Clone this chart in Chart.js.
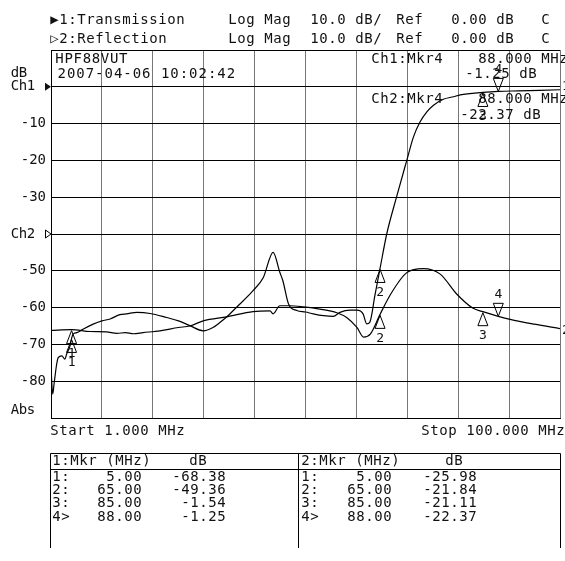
<!DOCTYPE html>
<html>
<head>
<meta charset="utf-8">
<script src="https://cdn.jsdelivr.net/npm/chart.js@4.4.1/dist/chart.umd.min.js"></script>
<style>
    html, body { margin: 0; padding: 0; background: #fff; }
    canvas { display: block; }
</style>
</head>
<body>
<canvas id="vna" width="565" height="561"></canvas>
<script>
// Ch1 (Transmission), MHz / dB
const freqCh1 = [1, 1.33, 1.6, 2.1, 2.4, 3.1, 3.7, 4.05, 4.7, 5, 5.3, 6, 7.3, 9.2, 10.9, 12.5, 14.4, 15.7, 17.7, 20.3,
    23.5, 25.8, 28, 30.6, 32.5, 33.9, 35.2, 37.1, 40.3, 42.3, 44.2, 45.5, 46.1, 47.2, 48.8, 50.5, 52, 54, 55.9, 57.2,
    59.2, 60.5, 61.7, 62.4, 63, 64, 65, 66.3, 68.2, 70.2, 71.5, 72.8, 74.1, 75.4, 77.3, 79.3, 80.6, 85, 88, 92, 96, 100];
const ch1Db = [-76.3, -83.5, -80.7, -75.4, -73.6, -73.1, -74.0, -72.6, -70.4, -68.38, -67.2, -66.8, -65.8, -64.5, -63.6, -63.1, -61.9, -61.7, -61.3, -61.6,
    -62.7, -63.6, -64.9, -66.3, -65.4, -64.0, -62.5, -59.9, -55.4, -51.8, -45.0, -50.4, -52.7, -59.0, -60.8, -61.2, -61.7, -62.2, -62.4, -61.3,
    -60.7, -60.7, -61.7, -64.4, -64.0, -56.7, -49.36, -40, -30, -20, -13.6, -9.5, -6.8, -5.0, -3.4, -2.7, -2.2, -1.54, -1.25, -1.1, -0.95, -0.8];

// Ch2 (Reflection), MHz / dB
const freqCh2 = [1, 5, 8.6, 11.8, 13.8, 15.5, 17, 18.9, 22.2, 25.8, 28, 30.6, 35.2, 40.3, 43.6, 44.2, 45.5, 47.5, 50.1, 53.3,
    56.6, 58.5, 60.5, 61.8, 63.1, 65, 67, 70.2, 73.4, 76.7, 79.9, 83.1, 85, 88, 90.3, 95, 100];
const ch2Db = [-26.2, -25.98, -26.5, -26.6, -27.0, -26.8, -27.1, -26.8, -26.3, -25.4, -25.0, -23.6, -22.5, -21.1, -20.9, -21.7, -19.5, -19.5, -19.8, -20.4,
    -21.4, -22.7, -25.4, -28.0, -27.2, -21.84, -16.5, -10.5, -9.4, -10.9, -16.3, -20.2, -21.11, -22.37, -23.2, -24.5, -25.7];

// markers
const markerFreq = [5, 65, 85, 88];
const ch1Mkr = [-68.38, -49.36, -1.54, -1.25];
const ch2Mkr = [-25.98, -21.84, -21.11, -22.37];

// axes
const xGridMhz = [1, 10.9, 20.8, 30.7, 40.6, 50.5, 60.4, 70.3, 80.2, 90.1, 100];
const yTickValues = [-10, -20, -30, -50, -60, -70, -80];

const FONT = '14px "DejaVu Sans Mono", monospace';
const SMALL = '13px "DejaVu Sans Mono", monospace';

function txt(ctx, s, x, y, pitch) {
    pitch = pitch || 9;
    for (let i = 0; i < s.length; i++) ctx.fillText(s[i], x + i * pitch + pitch / 2, y);
}
function txtRight(ctx, s, xEnd, y, pitch) {
    pitch = pitch || 9;
    txt(ctx, s, xEnd - s.length * pitch, y, pitch);
}

function marcador(ctx, px, py, ativo, num) {
    ctx.beginPath();
    if (ativo) {
        ctx.moveTo(px, py);
        ctx.lineTo(px - 5, py - 13);
        ctx.lineTo(px + 5, py - 13);
    } else {
        ctx.moveTo(px, py + 1);
        ctx.lineTo(px - 5, py + 14);
        ctx.lineTo(px + 5, py + 14);
    }
    ctx.closePath();
    ctx.stroke();
    ctx.font = SMALL;
    ctx.fillText(num, px, ativo ? py - 22 : py + 24);
}

const overlay = {
    id: 'overlay',
    afterDraw(chart) {
        const ctx = chart.ctx;
        const sx = chart.scales.x, s1 = chart.scales.y, s2 = chart.scales.y2;
        const area = chart.chartArea;
        ctx.save();
        ctx.fillStyle = '#111';
        ctx.strokeStyle = '#000';
        ctx.lineWidth = 1;
        ctx.textAlign = 'center';
        ctx.textBaseline = 'middle';
        ctx.font = FONT;

        // header
        txt(ctx, '\u25B61:Transmission', 50, 20);
        txt(ctx, '\u25B72:Reflection', 50, 39);
        [20, 39].forEach(y => {
            txt(ctx, 'Log Mag', 228, y);
            txt(ctx, '10.0 dB/', 310, y);
            txt(ctx, 'Ref', 396, y);
            txt(ctx, '0.00 dB', 451, y);
            txt(ctx, 'C', 541, y);
        });

        // texts inside the grid
        txt(ctx, 'HPF88VUT', 55, 59, 9.1);
        txt(ctx, '2007-04-06 10:02:42', 57, 74, 9.4);
        txt(ctx, 'Ch1:Mkr4', 371, 59);
        txt(ctx, '88.000 MHz', 478, 59);
        txt(ctx, '-1.25 dB', 465, 74);
        txt(ctx, 'Ch2:Mkr4', 371, 99);
        txt(ctx, '88.000 MHz', 478, 99);
        txt(ctx, '-22.37 dB', 460, 115);

        // left side labels
        const y0 = s1.getPixelForValue(0);
        const yc2 = s2.getPixelForValue(0);
        txt(ctx, 'dB', 11, y0 - 13, 8);
        txt(ctx, 'Ch1', 11, y0, 8);
        txt(ctx, 'Ch2', 11, yc2, 8);
        txt(ctx, 'Abs', 11, s1.getPixelForValue(-88), 8);
        ctx.beginPath();
        ctx.moveTo(45, y0 - 4); ctx.lineTo(51, y0); ctx.lineTo(45, y0 + 4); ctx.closePath();
        ctx.fill();
        ctx.beginPath();
        ctx.moveTo(45.5, yc2 - 4); ctx.lineTo(51, yc2); ctx.lineTo(45.5, yc2 + 4); ctx.closePath();
        ctx.stroke();

        // start / stop
        txt(ctx, 'Start 1.000 MHz', 50, 431);
        txtRight(ctx, 'Stop 100.000 MHz', 565, 431);

        // trace end labels
        ctx.font = SMALL;
        ctx.textAlign = 'left';
        ctx.fillText('1', area.right + 2, s1.getPixelForValue(ch1Db[ch1Db.length - 1]) - 3);
        ctx.fillText('2', area.right + 2, s2.getPixelForValue(ch2Db[ch2Db.length - 1]) + 2);
        ctx.textAlign = 'center';

        // markers
        markerFreq.forEach((f, i) => {
            const px = sx.getPixelForValue(f);
            const ativo = i === markerFreq.length - 1;
            marcador(ctx, px, s1.getPixelForValue(ch1Mkr[i]), ativo, String(i + 1));
            marcador(ctx, px, s2.getPixelForValue(ch2Mkr[i]), ativo, String(i + 1));
        });

        // marker table
        const tTop = 453.5, tDiv = 469.5, tBot = 548, tL = 50.5, tM = 298.5, tR = 560.5;
        ctx.beginPath();
        ctx.moveTo(tL, tTop); ctx.lineTo(tR, tTop);
        ctx.moveTo(tL, tDiv); ctx.lineTo(tR, tDiv);
        [tL, tM, tR].forEach(x => { ctx.moveTo(x, tTop); ctx.lineTo(x, tBot); });
        ctx.stroke();
        ctx.font = FONT;
        txt(ctx, '1:Mkr (MHz)', 52, 461);
        txt(ctx, 'dB', 189, 461);
        txt(ctx, '2:Mkr (MHz)', 301, 461);
        txt(ctx, 'dB', 445, 461);
        markerFreq.forEach((f, i) => {
            const y = 477 + i * 13.4;
            const lbl = (i + 1) + (i === markerFreq.length - 1 ? '>' : ':');
            txt(ctx, lbl, 52, y);
            txtRight(ctx, f.toFixed(2), 142, y);
            txtRight(ctx, ch1Mkr[i].toFixed(2), 226, y);
            txt(ctx, lbl, 301, y);
            txtRight(ctx, f.toFixed(2), 392, y);
            txtRight(ctx, ch2Mkr[i].toFixed(2), 477, y);
        });
        ctx.restore();
    }
};

new Chart(document.getElementById('vna'), {
    type: 'line',
    data: {
        datasets: [
            {
                label: '1:Transmission',
                data: freqCh1.map((f, i) => ({ x: f, y: ch1Db[i] })),
                yAxisID: 'y',
                borderColor: '#000',
                borderWidth: 1.2,
                pointRadius: 0,
                cubicInterpolationMode: 'monotone'
            },
            {
                label: '2:Reflection',
                data: freqCh2.map((f, i) => ({ x: f, y: ch2Db[i] })),
                yAxisID: 'y2',
                borderColor: '#000',
                borderWidth: 1.2,
                pointRadius: 0,
                cubicInterpolationMode: 'monotone'
            }
        ]
    },
    options: {
        responsive: false,
        animation: false,
        events: [],
        layout: { padding: { top: 50, right: 5, bottom: 143, left: 0 } },
        plugins: { legend: { display: false }, tooltip: { enabled: false } },
        scales: {
            x: {
                type: 'linear', min: 1, max: 100,
                afterBuildTicks: ax => { ax.ticks = xGridMhz.map(v => ({ value: v })); },
                ticks: { display: false },
                grid: { color: '#777', drawTicks: false },
                border: { color: '#000' }
            },
            y: {
                min: -90, max: 10,
                ticks: {
                    stepSize: 10,
                    color: '#111',
                    padding: 5,
                    font: { family: '"DejaVu Sans Mono", monospace', size: 14 },
                    callback: v => yTickValues.includes(v) ? String(v) : ''
                },
                afterFit: ax => { ax.width = 51; },
                grid: { color: '#000', drawTicks: false },
                border: { color: '#000' }
            },
            y2: { display: false, min: -50, max: 50 }
        }
    },
    plugins: [overlay]
});
</script>
</body>
</html>
